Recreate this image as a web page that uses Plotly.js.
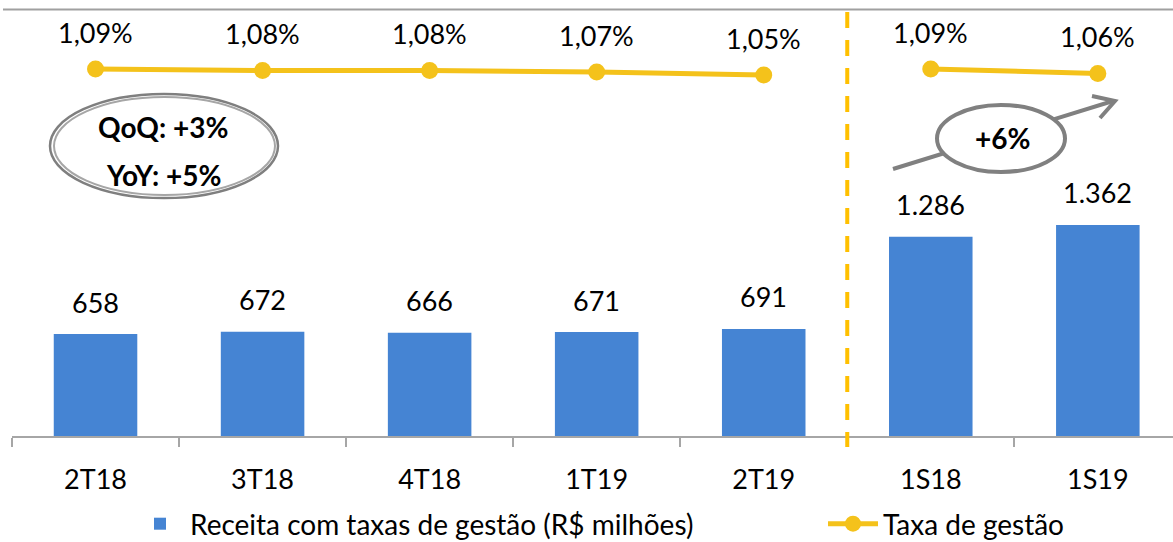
<!DOCTYPE html>
<html>
<head>
<meta charset="utf-8">
<script src="https://cdn.plot.ly/plotly-3.0.1.min.js"></script>
<style>html,body{margin:0;padding:0;background:#fff;}#chart{width:1173px;height:542px;}</style>
</head>
<body>
<div id="chart"></div>
<script>
// ---- data ----
const categories = ["2T18", "3T18", "4T18", "1T19", "2T19", "1S18", "1S19"];
const revenue = [658, 672, 666, 671, 691, 1286, 1362];
const revenueLabels = ["658", "672", "666", "671", "691", "1.286", "1.362"];
const quarterCats = ["2T18", "3T18", "4T18", "1T19", "2T19"];
const quarterRate = [1.09, 1.08, 1.08, 1.07, 1.05];
const semesterCats = ["1S18", "1S19"];
const semesterRate = [1.09, 1.06];
const rateLabelsQ = ["1,09%", "1,08%", "1,08%", "1,07%", "1,05%"];
const rateLabelsS = ["1,09%", "1,06%"];
const revenueName = "Receita com taxas de gestão (R$ milhões)";
const rateName = "Taxa de gestão";

// ---- layout helpers (pixel -> paper) ----
const W = 1173, Hh = 542;
const M = {l: 12, r: 0, t: 10, b: 106, autoexpand: false};
const PW = W - M.l - M.r, PH = Hh - M.t - M.b;
const px = x => (x - M.l) / PW;
const py = y => (Hh - M.b - y) / PH;

const FONT = "Lato, 'Open Sans', sans-serif";
const BLUE = "#4584D3";
const GOLD = "#F4C21B";
const GRAY = "#808080";

const traces = [
  {type: "bar", x: categories, y: revenue, name: revenueName, legendwidth: 628,
   marker: {color: BLUE}, width: 0.5, hoverinfo: "skip"},
  {type: "scatter", mode: "lines+markers", x: quarterCats, y: quarterRate, yaxis: "y2",
   name: rateName, line: {color: GOLD, width: 5}, marker: {color: GOLD, size: 17}},
  {type: "scatter", mode: "lines+markers", x: semesterCats, y: semesterRate, yaxis: "y2",
   name: rateName, showlegend: false, line: {color: GOLD, width: 5}, marker: {color: GOLD, size: 17}}
];

const annotations = [];
categories.forEach((c, i) => annotations.push({
  x: c, y: revenue[i], xref: "x", yref: "y", text: revenueLabels[i], showarrow: false,
  xanchor: "center", yanchor: "middle", yshift: 32, font: {family: FONT, size: 27, color: "#000"}
}));
quarterCats.forEach((c, i) => annotations.push({
  x: c, y: quarterRate[i], xref: "x", yref: "y2", text: rateLabelsQ[i], showarrow: false,
  xanchor: "center", yanchor: "middle", yshift: 37, font: {family: FONT, size: 27, color: "#000"}
}));
semesterCats.forEach((c, i) => annotations.push({
  x: c, y: semesterRate[i], xref: "x", yref: "y2", text: rateLabelsS[i], showarrow: false,
  xanchor: "center", yanchor: "middle", yshift: 37, font: {family: FONT, size: 27, color: "#000"}
}));
// callouts
annotations.push({xref: "paper", yref: "paper", x: px(163), y: py(127), text: "<b>QoQ: +3%</b>",
  xanchor: "center", yanchor: "middle", showarrow: false, font: {family: FONT, size: 28, color: "#000"}});
annotations.push({xref: "paper", yref: "paper", x: px(163), y: py(175), text: "<b>YoY: +5%</b>",
  xanchor: "center", yanchor: "middle", showarrow: false, font: {family: FONT, size: 28, color: "#000"}});
annotations.push({xref: "paper", yref: "paper", x: px(1002), y: py(138), text: "<b>+6%</b>",
  xanchor: "center", yanchor: "middle", showarrow: false, font: {family: FONT, size: 28, color: "#000"}});

const P = (x, y) => px(x) + "," + py(y);
const shapes = [
  // top gray rule
  {type: "line", xref: "paper", yref: "paper", x0: px(3), x1: px(1173), y0: py(9.5), y1: py(9.5),
   line: {color: "#A0A0A0", width: 2}},
  // dashed separator between quarters and semesters
  {type: "line", xref: "x", yref: "paper", x0: 4.5, x1: 4.5, y0: py(12), y1: py(447),
   line: {color: "#FFC000", width: 4, dash: "16px,12px"}},
  // left sketchy ellipse (double stroke)
  {type: "circle", xref: "paper", yref: "paper", x0: px(50), x1: px(278), y0: py(94), y1: py(198),
   line: {color: "#7F7F7F", width: 2.5}},
  {type: "circle", xref: "paper", yref: "paper", x0: px(54), x1: px(275), y0: py(97), y1: py(195),
   line: {color: "#A6A6A6", width: 2}},
  // growth arrow
  {type: "line", xref: "paper", yref: "paper", x0: px(893), y0: py(169), x1: px(1113), y1: py(101),
   line: {color: GRAY, width: 4}},
  {type: "path", xref: "paper", yref: "paper",
   path: "M" + P(1092, 96) + "L" + P(1115, 101) + "L" + P(1100, 118),
   line: {color: GRAY, width: 4}},
  // right ellipse
  {type: "circle", xref: "paper", yref: "paper", x0: px(937), x1: px(1065), y0: py(105), y1: py(172),
   line: {color: GRAY, width: 4}, fillcolor: "#fff"}
];

const layout = {
  width: W, height: Hh,
  margin: M,
  paper_bgcolor: "#fff", plot_bgcolor: "#fff",
  font: {family: FONT, size: 27, color: "#000"},
  showlegend: true,
  xaxis: {
    type: "category", range: [-0.5, 6.45], showline: true, linecolor: "#A6A6A6", linewidth: 2,
    ticks: "outside", tickson: "boundaries", ticklen: 9, tickcolor: "#A6A6A6", tickwidth: 2,
    ticklabelstandoff: 19, tickfont: {family: FONT, size: 27, color: "#000"},
    showgrid: false, zeroline: false, fixedrange: true
  },
  yaxis: {range: [0, PH / 0.155], visible: false, fixedrange: true},
  yaxis2: {overlaying: "y", side: "right", range: [1.09 - (PH - 59) / 150, 1.09 + 59 / 150],
           visible: false, fixedrange: true},
  legend: {
    orientation: "h", x: px(130), xanchor: "left", y: py(524), yanchor: "middle",
    font: {family: FONT, size: 28, color: "#000"}, itemwidth: 50,
    entrywidthmode: "pixels", bgcolor: "rgba(0,0,0,0)"
  },
  annotations: annotations,
  shapes: shapes
};

Plotly.newPlot("chart", traces, layout, {displayModeBar: false, staticPlot: true});
</script>
</body>
</html>
